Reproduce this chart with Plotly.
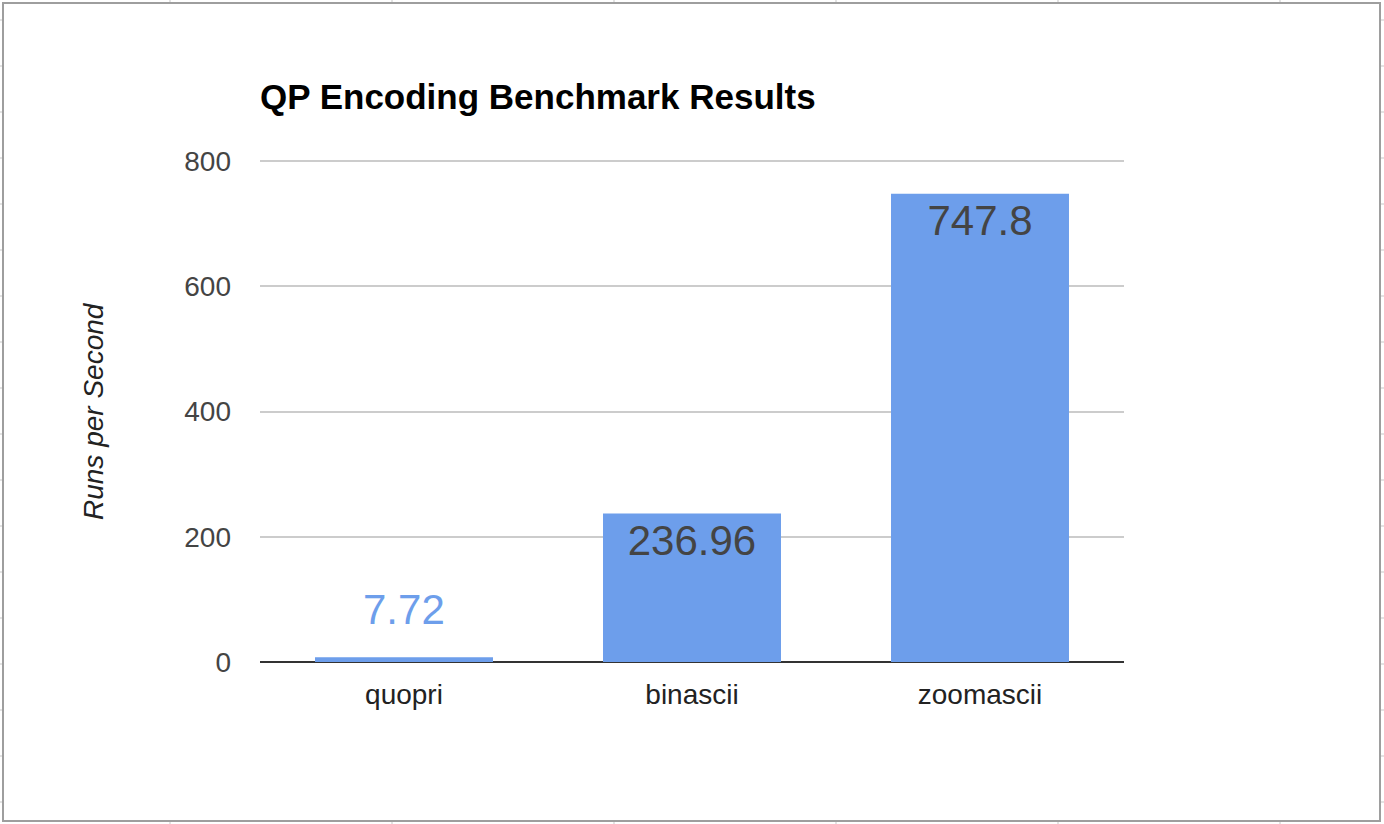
import plotly.graph_objects as go

categories = ["quopri", "binascii", "zoomascii"]
runs_per_second = [7.72, 236.96, 747.8]
value_labels = ["7.72", "236.96", "747.8"]
y_tick_values = [0, 200, 400, 600, 800]
y_tick_labels = ["0", "200", "400", "600", "800"]

W, H = 1384, 824
L, R, T, B = 260, 260, 159, 162
PW, PH = W - L - R, H - T - B
Y_TOP = 800 * PH / (PH - 2)  # keeps the 800 line at y=161

def px_x(px):
    return (px - L) / PW

def px_y(py):
    return (H - B - py) / PH

BAR = "#6d9eeb"
FONT = "Liberation Sans, Arial, sans-serif"

inside = [v > 50 for v in runs_per_second]

fig = go.Figure()
fig.add_trace(go.Bar(
    x=categories,
    y=runs_per_second,
    marker=dict(color=BAR, line=dict(width=0)),
    width=0.618,
    text=[t if ins else "" for t, ins in zip(value_labels, inside)],
    textposition="inside",
    insidetextanchor="end",
    textangle=0,
    textfont=dict(family=FONT, size=42, color="#444444"),
    hoverinfo="skip",
))

annotations = []
for c, v, t, ins in zip(categories, runs_per_second, value_labels, inside):
    if not ins:
        annotations.append(dict(
            x=c, y=v, xref="x", yref="y", text=t, showarrow=False,
            yanchor="bottom", yshift=22,
            font=dict(family=FONT, size=42, color=BAR),
        ))

annotations.append(dict(
    x=px_x(93), y=px_y(411), xref="paper", yref="paper",
    text="<i>Runs per Second</i>", showarrow=False, textangle=-90,
    xanchor="center", yanchor="middle",
    font=dict(family=FONT, size=28, color="#222222"),
))

shapes = []
grid_col = "#e3e3e3"
for gx in [170, 392, 614, 836, 1058, 1280]:
    shapes.append(dict(type="line", xref="paper", yref="paper", layer="below",
                       x0=px_x(gx), x1=px_x(gx), y0=px_y(0), y1=px_y(H),
                       line=dict(color=grid_col, width=2)))
for k in range(18):
    gy = 20 + 46 * k
    shapes.append(dict(type="line", xref="paper", yref="paper", layer="below",
                       x0=px_x(0), x1=px_x(W), y0=px_y(gy), y1=px_y(gy),
                       line=dict(color=grid_col, width=2)))
shapes.append(dict(type="rect", xref="paper", yref="paper", layer="below",
                   x0=px_x(3), x1=px_x(1380), y0=px_y(821), y1=px_y(3),
                   fillcolor="white", line=dict(color="#9e9e9e", width=2)))

fig.update_layout(
    width=W, height=H,
    margin=dict(l=L, r=R, t=T, b=B, pad=0),
    paper_bgcolor="white",
    plot_bgcolor="white",
    showlegend=False,
    bargap=0.382,
    font=dict(family=FONT),
    title=dict(
        text="<b>QP Encoding Benchmark Results</b>",
        x=260 / W, xanchor="left", xref="container",
        y=1 - 97 / H, yanchor="middle", yref="container",
        font=dict(family=FONT, size=35, color="#000000"),
    ),
    xaxis=dict(
        type="category",
        showgrid=False,
        showline=False,
        zeroline=False,
        ticks="",
        ticklabelstandoff=13,
        tickfont=dict(family=FONT, size=28, color="#222222"),
    ),
    yaxis=dict(
        range=[0, Y_TOP],
        tickvals=y_tick_values,
        ticktext=y_tick_labels,
        showgrid=True,
        gridcolor="#cccccc",
        gridwidth=2,
        zeroline=True,
        zerolinecolor="#333333",
        zerolinewidth=2,
        showline=False,
        ticks="",
        ticklabelstandoff=28,
        tickfont=dict(family=FONT, size=28, color="#444444"),
    ),
    annotations=annotations,
    shapes=shapes,
)

fig.write_html("out.html")
